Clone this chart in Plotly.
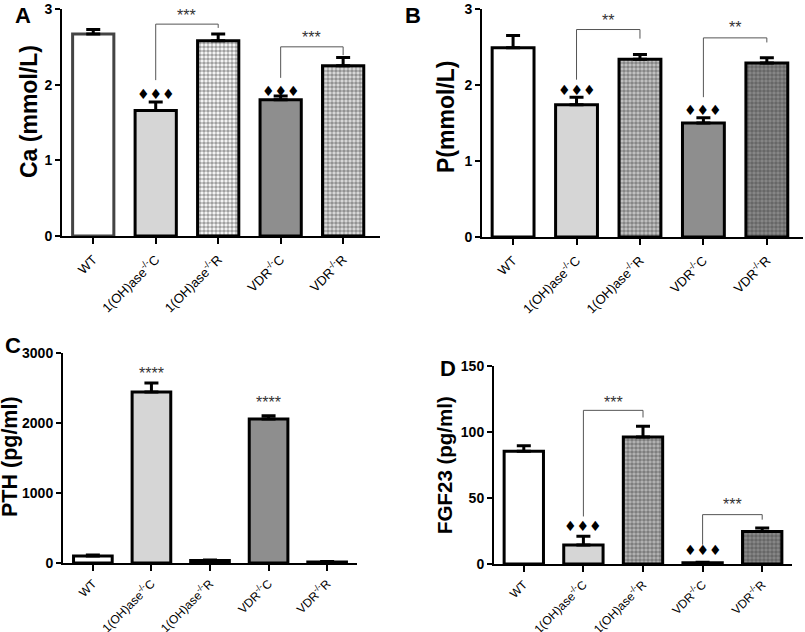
import plotly.graph_objects as go

categories = ["WT", "1(OH)ase<sup>-/-</sup>C", "1(OH)ase<sup>-/-</sup>R", "VDR<sup>-/-</sup>C", "VDR<sup>-/-</sup>R"]
ca_vals = [2.67, 1.66, 2.58, 1.80, 2.25]
ca_err = [0.06, 0.11, 0.09, 0.05, 0.11]
p_vals = [2.49, 1.74, 2.34, 1.50, 2.29]
p_err = [0.16, 0.10, 0.06, 0.07, 0.07]
pth_vals = [100, 2443, 35, 2057, 15]
pth_err = [15, 128, 8, 45, 5]
fgf_vals = [85.4, 14.4, 96.2, 1.0, 24.7]
fgf_err = [4.2, 6.6, 8.1, 0.3, 2.6]

# significance brackets: (x0, x1, y_left, y_top, y_right, label, label_y)
brackets_a = [(1, 2, 2.06, 2.80, 2.75, "***", 2.91), (3, 4, 2.09, 2.50, 2.39, "***", 2.62)]
brackets_b = [(1, 2, 2.07, 2.73, 2.61, "**", 2.85), (3, 4, 1.84, 2.62, 2.56, "**", 2.75)]
brackets_d = [(1, 2, 36, 116.4, 111, "***", 122.5), (3, 4, 14.6, 37.4, 33.6, "***", 45)]
diamonds_a = [(1, 1.87), (3, 1.92)]
diamonds_b = [(1, 1.94), (3, 1.67)]
diamonds_d = [(1, 28.5), (3, 10.9)]
stars_c = [(1, 2714, "****"), (3, 2286, "****")]

patterned = [False, False, True, False, True]

panels = [
    dict(vals=ca_vals, err=ca_err, xd=[62/805, 380/805], yd=[1-236/632, 1-9/632],
         xr=[-0.5, 4.59], yr=[0, 3], tickvals=[0, 1, 2, 3], title="Ca (mmol/L)",
         tpos=(29, 112), letter="A", lpos=(23, 15), tsize=23, wtline="#444", xfs=13, xso=3,
         fills=["white", "#d6d6d6", "white", "#8e8e8e", "#e0e0e0"]),
    dict(vals=p_vals, err=p_err, xd=[482/805, 803/805], yd=[1-237/632, 1-9/632],
         xr=[-0.49, 4.57], yr=[0, 3], tickvals=[0, 1, 2, 3], title="P(mmol/L)",
         tpos=(446, 117), letter="B", lpos=(413, 15), tsize=23, wtline="black", xfs=13, xso=3,
         fills=["white", "#d6d6d6", "#c8c8c8", "#8e8e8e", "#8a8a8a"]),
    dict(vals=pth_vals, err=pth_err, xd=[63/805, 357/805], yd=[1-563/632, 1-353/632],
         xr=[-0.51, 4.51], yr=[0, 3000], tickvals=[0, 1000, 2000, 3000], title="PTH (pg/ml)",
         tpos=(10, 457), letter="C", lpos=(13, 345), tsize=21.5, wtline="black", xfs=12, xso=1,
         fills=["white", "#d6d6d6", "#c8c8c8", "#8e8e8e", "#8a8a8a"]),
    dict(vals=fgf_vals, err=fgf_err, xd=[494/805, 792/805], yd=[1-564/632, 1-366/632],
         xr=[-0.5, 4.5], yr=[0, 150], tickvals=[0, 50, 100, 150], title="FGF23 (pg/ml)",
         tpos=(444, 465), letter="D", lpos=(448, 368), tsize=20.5, wtline="black", xfs=12, xso=1,
         fills=["white", "#d6d6d6", "#b8b8b8", "#8e8e8e", "#8a8a8a"]),
]

fig = go.Figure()
annotations = []
shapes = []
layout = {}

for i, pn in enumerate(panels):
    n = "" if i == 0 else str(i + 1)
    xa, ya = "x" + n, "y" + n
    lines = [pn["wtline"], "black", "black", "black", "black"]
    fig.add_trace(go.Bar(
        x=list(range(5)), y=pn["vals"], xaxis=xa, yaxis=ya, width=0.66,
        marker=dict(color=pn["fills"], line=dict(color=lines, width=3),
                    pattern=dict(shape=["." if p else "" for p in patterned],
                                 fgcolor="black", size=4, solidity=0.65,
                                 fillmode="overlay")),
        error_y=dict(type="data", array=pn["err"], arrayminus=[0] * 5, symmetric=False,
                     color="black", thickness=3, width=7),
        showlegend=False, hoverinfo="skip"))
    layout["xaxis" + n] = dict(domain=pn["xd"], range=pn["xr"], anchor=ya, automargin=False,
                               tickvals=list(range(5)), ticktext=categories, tickangle=-45,
                               showline=True, linecolor="black", linewidth=2,
                               ticks="outside", ticklen=6, tickwidth=2, tickcolor="black",
                               ticklabelstandoff=pn["xso"],
                               showgrid=False, zeroline=False,
                               tickfont=dict(family="Arial", size=pn["xfs"], color="black"))
    layout["yaxis" + n] = dict(domain=pn["yd"], range=pn["yr"], anchor=xa, automargin=False,
                               tickvals=pn["tickvals"],
                               showline=True, linecolor="black", linewidth=2,
                               ticks="outside", ticklen=5, tickwidth=2, tickcolor="black",
                               showgrid=False, zeroline=False,
                               tickfont=dict(family="Arial", size=14, color="black", weight="bold"))
    annotations.append(dict(x=pn["tpos"][0] / 805, y=1 - pn["tpos"][1] / 632, xref="paper", yref="paper",
                            xanchor="center", yanchor="middle",
                            text="<b>" + pn["title"] + "</b>", textangle=-90, showarrow=False,
                            font=dict(family="Arial", size=pn["tsize"], color="black")))
    annotations.append(dict(x=pn["lpos"][0] / 805, y=1 - pn["lpos"][1] / 632, xref="paper", yref="paper",
                            xanchor="center", yanchor="middle",
                            text="<b>" + pn["letter"] + "</b>", showarrow=False,
                            font=dict(family="Arial", size=22, color="black")))

def add_brackets(brs, n):
    xa, ya = "x" + n, "y" + n
    for x0, x1, yl, yt, yr, lab, ly in brs:
        for sx0, sy0, sx1, sy1 in [(x0, yl, x0, yt), (x0, yt, x1, yt), (x1, yt, x1, yr)]:
            shapes.append(dict(type="line", xref=xa, yref=ya, x0=sx0, y0=sy0, x1=sx1, y1=sy1,
                               line=dict(color="#555", width=1)))
        annotations.append(dict(x=(x0 + x1) / 2, y=ly, xref=xa, yref=ya, text=lab, showarrow=False,
                                xanchor="center", yanchor="middle",
                                font=dict(family="Arial", size=16, color="#333")))

def add_marks(marks, n, text):
    for x, y in marks:
        annotations.append(dict(x=x, y=y, xref="x" + n, yref="y" + n, text=text, showarrow=False,
                                xanchor="center", yanchor="middle",
                                font=dict(family="DejaVu Sans", size=14, color="black")))

add_brackets(brackets_a, "")
add_brackets(brackets_b, "2")
add_brackets(brackets_d, "4")
add_marks(diamonds_a, "", "♦♦♦")
add_marks(diamonds_b, "2", "♦♦♦")
add_marks(diamonds_d, "4", "♦♦♦")
for x, y, t in stars_c:
    annotations.append(dict(x=x, y=y, xref="x3", yref="y3", text=t, showarrow=False,
                            xanchor="center", yanchor="middle",
                            font=dict(family="Arial", size=16, color="#333")))

fig.update_layout(width=805, height=632, margin=dict(l=0, r=0, t=0, b=0, autoexpand=False),
                  paper_bgcolor="white", plot_bgcolor="white",
                  annotations=annotations, shapes=shapes, **layout)

fig.write_html("out.html", config={"displayModeBar": False},
               post_script="document.body.style.margin='0px';document.body.style.overflow='hidden';")
